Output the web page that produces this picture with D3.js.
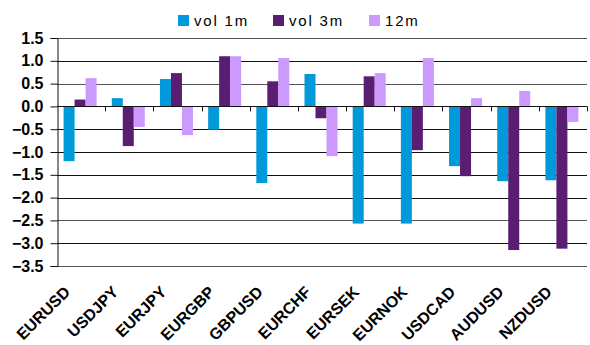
<!DOCTYPE html>
<html>
<head>
<meta charset="utf-8">
<script src="https://cdn.jsdelivr.net/npm/d3@7"></script>
<style>
  body { margin: 0; background: #fff; }
  text { font-family: "Liberation Sans", Arial, sans-serif; }
</style>
</head>
<body>
<svg id="chart" width="590" height="345"></svg>
<script>
// values
const pairs = ["EURUSD", "USDJPY", "EURJPY", "EURGBP", "GBPUSD", "EURCHF", "EURSEK", "EURNOK", "USDCAD", "AUDUSD", "NZDUSD"]
const vol1m = [-1.2, 0.18, 0.6, -0.51, -1.68, 0.71, -2.57, -2.57, -1.31, -1.64, -1.62]
const vol3m = [0.15, -0.87, 0.73, 1.1, 0.55, -0.26, 0.66, -0.96, -1.53, -3.15, -3.12]
const vol12m = [0.62, -0.45, -0.63, 1.1, 1.06, -1.09, 0.73, 1.06, 0.18, 0.34, -0.34]
const seriesNames = ["vol 1m", "vol 3m", "12m"]
const seriesColors = ["#0099DA", "#591E72", "#CC99FF"]
const yTicks = [1.5, 1.0, 0.5, 0.0, -0.5, -1.0, -1.5, -2.0, -2.5, -3.0, -3.5]

const svg = d3.select("#chart")
const margin = {left: 57, right: 3, top: 38, bottom: 79}
const W = 590, H = 345

const x = d3.scaleBand().domain(pairs).range([margin.left, W - margin.right]).paddingInner(0).paddingOuter(0)
const y = d3.scaleLinear().domain([-3.5, 1.5]).range([H - margin.bottom, margin.top])

const barW = 11
const inner = d3.scaleBand().domain(seriesNames).range([0, barW * 3])

// gridlines
svg.append("g")
    .selectAll("line")
    .data(yTicks)
    .join("line")
    .attr("x1", margin.left)
    .attr("x2", W - margin.right)
    .attr("y1", d => Math.round(y(d)) + 0.5)
    .attr("y2", d => Math.round(y(d)) + 0.5)
    .attr("stroke", d => (d === 1.5 || d === -3.5 || d === -2.5 || d === 0.5) ? "#555" : "#111")
    .attr("stroke-width", 1)

// bars
const rows = pairs.map((p, i) => ({pair: p, vals: [vol1m[i], vol3m[i], vol12m[i]]}))
const groups = svg.append("g")
    .selectAll("g")
    .data(rows)
    .join("g")
    .attr("transform", d => `translate(${x(d.pair) + (x.bandwidth() - barW * 3) / 2 - 1},0)`)

groups.selectAll("rect")
    .data(d => d.vals.map((v, k) => ({v, k})))
    .join("rect")
    .attr("x", d => inner(seriesNames[d.k]))
    .attr("width", barW)
    .attr("y", d => y(Math.max(0, d.v)))
    .attr("height", d => Math.abs(y(d.v) - y(0)))
    .attr("fill", d => seriesColors[d.k])

// zero line on top of bars
svg.append("line")
    .attr("x1", margin.left).attr("x2", W - margin.right)
    .attr("y1", Math.round(y(0)) + 0.5).attr("y2", Math.round(y(0)) + 0.5)
    .attr("stroke", "#111")

// category ticks on zero line
svg.append("g")
    .selectAll("line")
    .data(pairs.slice(1).concat(["end"]))
    .join("line")
    .attr("x1", (d, i) => Math.round(margin.left + x.bandwidth() * (i + 1)) + 0.5)
    .attr("x2", (d, i) => Math.round(margin.left + x.bandwidth() * (i + 1)) + 0.5)
    .attr("y1", y(0))
    .attr("y2", y(0) + 5)
    .attr("stroke", "#111")

// y axis
const yAxis = svg.append("g")
    .attr("transform", `translate(${margin.left + 0.5},0)`)
    .call(d3.axisLeft(y).tickValues(yTicks).tickFormat(d3.format(".1f")).tickSize(7).tickPadding(7))
yAxis.select(".domain").attr("stroke", "#111")
yAxis.selectAll(".tick line").attr("stroke", "#111")
yAxis.selectAll("text")
    .attr("font-size", 16)
    .attr("font-weight", "bold")
    .attr("fill", "#000")
    .attr("font-family", "'Liberation Sans', Arial, sans-serif")

// x labels
svg.append("g")
    .selectAll("text")
    .data(pairs)
    .join("text")
    .attr("transform", d => `translate(${x(d) + x.bandwidth() / 2 - 10},${H - margin.bottom + 27}) rotate(-45)`)
    .attr("text-anchor", "end")
    .attr("font-size", 16)
    .attr("font-weight", "bold")
    .text(d => d)

// legend
const legendX = [178, 273, 369]
const legend = svg.append("g")
    .selectAll("g")
    .data(seriesNames)
    .join("g")
    .attr("transform", (d, i) => `translate(${legendX[i]},12)`)
legend.append("rect")
    .attr("y", 3)
    .attr("width", 11).attr("height", 11)
    .attr("fill", (d, i) => seriesColors[i])
legend.append("text")
    .attr("x", 16)
    .attr("y", 14)
    .attr("font-size", 15)
    .attr("letter-spacing", 1.8)
    .text(d => d)
</script>
</body>
</html>
